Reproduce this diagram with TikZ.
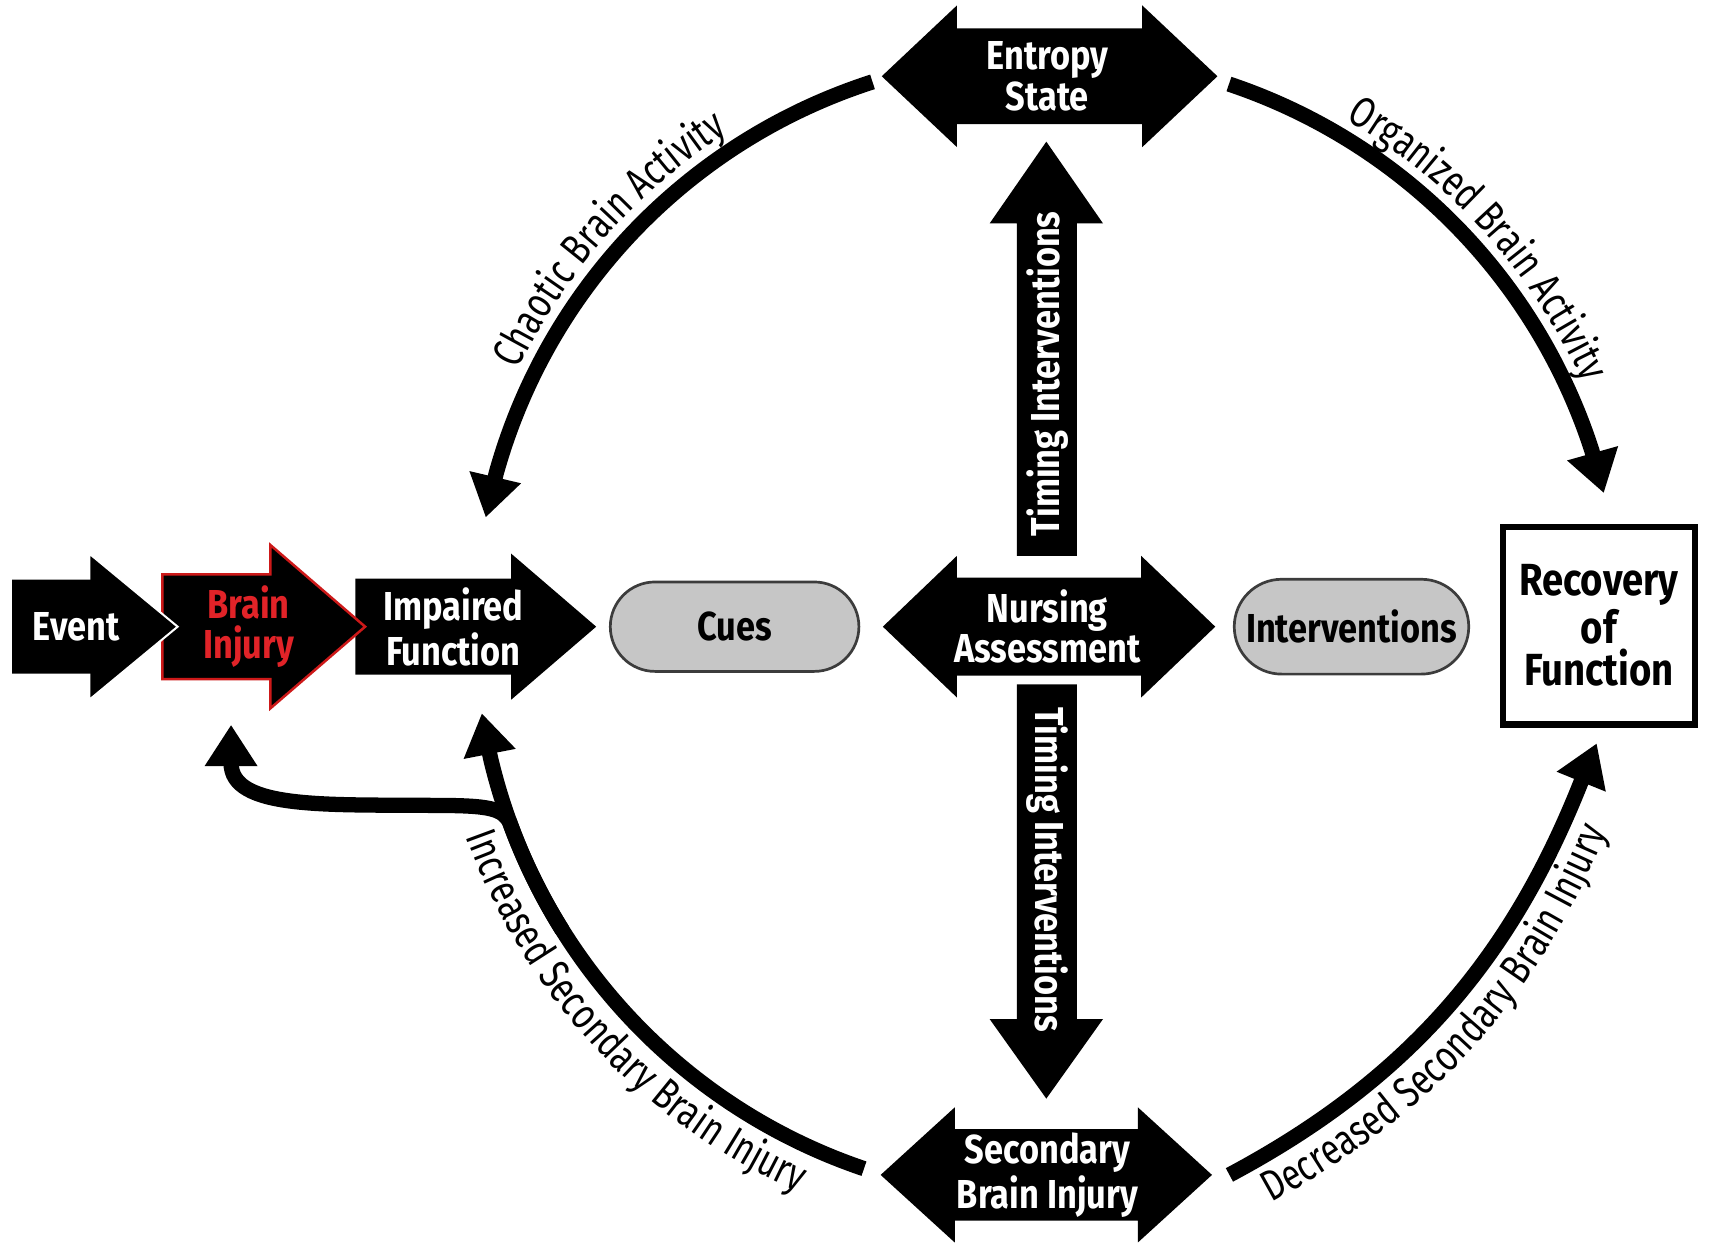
\documentclass[tikz,border=0pt]{standalone}
\usepackage{fontspec}
\setmainfont{Fira Sans}[FakeStretch=0.85]
\newfontfamily\arcfam{Fira Sans}[FakeStretch=0.77]
\usetikzlibrary{arrows.meta,shapes.misc,decorations.text}
\definecolor{pillgray}{RGB}{198,198,198}
\definecolor{pilledge}{RGB}{60,60,60}
\definecolor{injred}{RGB}{225,35,40}
\definecolor{injedge}{RGB}{205,25,25}
\newcommand\arclbl{\arcfam\fontsize{12.3}{12.3}\selectfont}
\begin{document}
\begin{tikzpicture}[x=0.0109cm,y=0.0109cm,
  blk/.style={fill=black},
  wtxt/.style={text=white,font=\bfseries\fontsize{11.5}{11.5}\selectfont,align=center,inner sep=0pt},
  pill/.style={rounded rectangle,fill=pillgray,draw=pilledge,line width=0.027cm,inner sep=0pt},
  conn/.style={line width=0.1526cm,-{Triangle[length=0.414cm,width=0.50cm]}},
  arctext/.style={decorate,decoration={text along path,text align=center,text={|\arclbl|#1}}}
]
\useasboundingbox (0,0) rectangle (1568,1155);
\fill[white] (0,0) rectangle (1568,1155);

% ---- left chain of block arrows ----
\fill[blk] (326,624) -- (469,624) -- (469,647) -- (547,580) -- (469,513) -- (469,536) -- (326,536) -- cycle;
\filldraw[fill=black,draw=injedge,line width=0.025cm] (149,628) -- (248,628) -- (248,655) -- (335,580) -- (248,505) -- (248,532) -- (149,532) -- cycle;
\filldraw[fill=black,draw=white,line width=0.02cm] (10,624) -- (82,624) -- (82,647) -- (163,580) -- (82,513) -- (82,536) -- (10,536) -- cycle;
\node[wtxt] (event) at (70,580) {Event};
\node[wtxt,text=injred] (brain) at (228,580) {Brain\\Injury};
\node[wtxt] (impaired) at (416,580) {Impaired\\Function};

% ---- pills and box ----
\node[pill,minimum width=2.485cm,minimum height=0.894cm,font=\bfseries\fontsize{11.5}{11.5}\selectfont] (cues) at (674,580) {Cues};
\node[pill,minimum width=2.344cm,minimum height=0.948cm,font=\bfseries\fontsize{11.5}{11.5}\selectfont] (interv) at (1240,580) {Interventions};
\node[draw=black,line width=0.065cm,minimum width=1.918cm,minimum height=1.973cm,inner sep=0pt,align=center,font=\bfseries\fontsize{12.8}{12}\selectfont] (recov) at (1467,581) {Recovery\\of\\Function};

% ---- double arrows ----
\fill[blk] (810,580) -- (878,645) -- (878,625) -- (1047,625) -- (1047,645) -- (1115,580) -- (1047,515) -- (1047,535) -- (878,535) -- (878,515) -- cycle;
\fill[blk] (809,1085) -- (878,1150) -- (878,1129) -- (1048,1129) -- (1048,1150) -- (1117,1085) -- (1048,1020) -- (1048,1041) -- (878,1041) -- (878,1020) -- cycle;
\fill[blk] (808,77) -- (876,139) -- (876,119) -- (1044,119) -- (1044,139) -- (1112,77) -- (1044,15) -- (1044,35) -- (876,35) -- (876,15) -- cycle;
\node[wtxt] (nursing) at (961,580) {Nursing\\Assessment};
\node[wtxt] (entropy) at (961,1085) {Entropy\\State};
\node[wtxt] (secondary) at (961,77) {Secondary\\Brain Injury};

% ---- vertical arrows ----
\fill[blk] (933,645) -- (933,950) -- (908,950) -- (960,1025) -- (1012,950) -- (988,950) -- (988,645) -- cycle;
\fill[blk] (933,527) -- (933,220) -- (908,220) -- (960,147) -- (1012,220) -- (988,220) -- (988,527) -- cycle;
\node[wtxt,rotate=90] (timeup) at (961,812) {Timing Interventions};
\node[wtxt,rotate=-90] (timedown) at (961,357) {Timing Interventions};

% ---- circular connectors ----
\coordinate (tipTL) at ([shift={(169:525)}]nursing.center);
\coordinate (tipTR) at ([shift={(13.5:525)}]nursing.center);
\coordinate (tipBL) at ([shift={(-171.3:525)}]nursing.center);
\coordinate (tipBR) at (1465,473);
\coordinate (tipBI) at (212,490);
\draw[conn] ([shift={(107.8:525)}]nursing.center) arc[start angle=107.8,end angle=164.5,radius=525] -- (tipTL);
\draw[conn] ([shift={(71.5:525)}]nursing.center) arc[start angle=71.5,end angle=18,radius=525] -- (tipTR);
\draw[conn] ([shift={(-108.7:525)}]nursing.center) arc[start angle=-108.7,end angle=-166.8,radius=525] -- (tipBL);
\draw[conn] (1128,77) .. controls (1295,166) and (1387,278) .. (1450,436) -- (tipBR);
\draw[conn] ([shift={(-148:525)}]nursing.center) arc[start angle=-148,end angle=-160,radius=525]
  .. controls (461,413) and (450,416) .. (400,416) .. controls (300,417) and (212,412) .. (212,455) -- (tipBI);

% ---- arc labels ----
\path[arctext={Chaotic Brain Activity}] ([shift={(169:540)}]nursing.center) arc[start angle=169,end angle=108,radius=540];
\path[arctext={Organized Brain Activity}] ([shift={(72:540)}]nursing.center) arc[start angle=72,end angle=12,radius=540];
\path[arctext={Increased Secondary Brain Injury}] ([shift={(-168:567)}]nursing.center) arc[start angle=-168,end angle=-106,radius=567];
\path[arctext={Decreased Secondary Brain Injury}] (1105,19) -- (1158,47) .. controls (1325,136) and (1417,248) .. (1480,406) -- (1500,456);
\end{tikzpicture}
\end{document}
